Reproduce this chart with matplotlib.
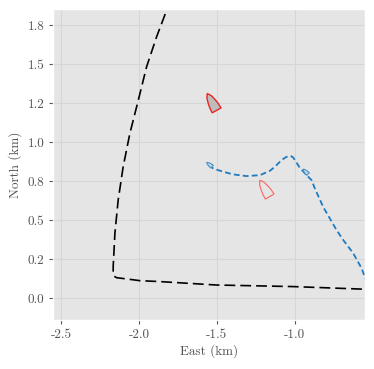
import numpy as np
import matplotlib
matplotlib.use("Agg")
import matplotlib.pyplot as plt
from matplotlib.ticker import FormatStrFormatter, MultipleLocator
from matplotlib.patches import Polygon

plt.style.use("ggplot")
plt.rcParams["font.family"] = "serif"
plt.rcParams["font.serif"] = ["cmr10"]
plt.rcParams["axes.unicode_minus"] = False

# black trajectory (km)
black_east = [-1.79, -1.816, -1.887, -1.951, -2.004, -2.058, -2.101, -2.133, -2.154, -2.165,
              -2.165, -2.160, -2.143, -2.079, -1.994, -1.865, -1.502, -1.011, -0.551, -0.50]
black_north = [1.95, 1.863, 1.675, 1.483, 1.269, 1.056, 0.842, 0.628, 0.415, 0.201,
               0.154, 0.140, 0.130, 0.122, 0.111, 0.105, 0.083, 0.073, 0.056, 0.054]

# blue trajectory (km)
blue_east = [-1.549, -1.524, -1.460, -1.395, -1.310, -1.224, -1.160, -1.128, -1.085, -1.055,
             -1.028, -1.012, -1.000, -0.968, -0.936, -0.893, -0.872, -0.819, -0.733, -0.690,
             -0.626, -0.572, -0.551, -0.53]
blue_north = [0.856, 0.831, 0.810, 0.793, 0.782, 0.788, 0.816, 0.842, 0.885, 0.905,
              0.912, 0.903, 0.885, 0.835, 0.800, 0.756, 0.703, 0.585, 0.436, 0.372,
              0.287, 0.190, 0.133, 0.08]

# boats: center east, center north, heading (deg from north, clockwise), length (km)
red_boat_east = [-1.532, -1.193]
red_boat_north = [1.258, 0.7035]
red_boat_heading = [-29, -31]
red_boat_length = [0.124, 0.123]

blue_boat_east = [-1.548, -0.932]
blue_boat_north = [0.856, 0.811]
blue_boat_heading = [-52, -45]
blue_boat_length = [0.045, 0.045]

# boat hull template (forward, starboard) in units of length
hull = np.array([[0.5, 0.0], [0.3, 0.13], [0.0, 0.21], [-0.25, 0.25], [-0.5, 0.26],
                 [-0.5, -0.26], [-0.25, -0.25], [0.0, -0.21], [0.3, -0.13]])


def boat_xy(e, n, hdg, L):
    h = np.deg2rad(hdg)
    fwd = np.array([np.sin(h), np.cos(h)])
    stb = np.array([np.cos(h), -np.sin(h)])
    pts = hull[:, :1] * L * fwd + hull[:, 1:] * L * stb
    return pts + np.array([e, n])


fig = plt.figure(figsize=(3.74, 3.69), dpi=100)
ax = fig.add_axes([0.1425, 0.133, 0.834, 0.842])
ax.set_facecolor("#E5E5E5")
ax.grid(True, color="#D6D6D6", linewidth=0.8)

ax.plot(black_east, black_north, color="black", linewidth=1.2, dashes=(6.5, 3))
ax.plot(blue_east, blue_north, color="#1f7bbf", linewidth=1.3, dashes=(3.2, 1.8))

for i in range(len(red_boat_east)):
    xy = boat_xy(red_boat_east[i], red_boat_north[i], red_boat_heading[i], red_boat_length[i])
    if i == 0:
        ax.add_patch(Polygon(xy, closed=True, facecolor="#bdbdbd", edgecolor="#ee2222", linewidth=1.0, zorder=3))
    else:
        ax.add_patch(Polygon(xy, closed=True, facecolor="none", edgecolor="#ff4444", linewidth=0.8, alpha=0.8, zorder=3))

for i in range(len(blue_boat_east)):
    xy = boat_xy(blue_boat_east[i], blue_boat_north[i], blue_boat_heading[i], blue_boat_length[i])
    ax.add_patch(Polygon(xy, closed=True, facecolor="#c4d6e4", edgecolor="#4a90c4", linewidth=0.8, zorder=3))

ax.set_xlim(-2.549, -0.549)
ax.set_ylim(-0.141, 1.853)
ax.xaxis.set_major_locator(MultipleLocator(0.5))
ax.yaxis.set_major_locator(MultipleLocator(0.25))
ax.xaxis.set_major_formatter(FormatStrFormatter("%.1f"))
ax.yaxis.set_major_formatter(FormatStrFormatter("%.1f"))
ax.tick_params(labelsize=9.5, colors="#555555", length=3)
for lab in ax.get_xticklabels() + ax.get_yticklabels():
    lab.set_color("#555555")
ax.set_xlabel("East (km)", fontsize=9.5, color="#555555", labelpad=2)
ax.set_ylabel("North (km)", fontsize=9.5, color="#555555", labelpad=4)

fig.savefig("out.png", dpi=100)
